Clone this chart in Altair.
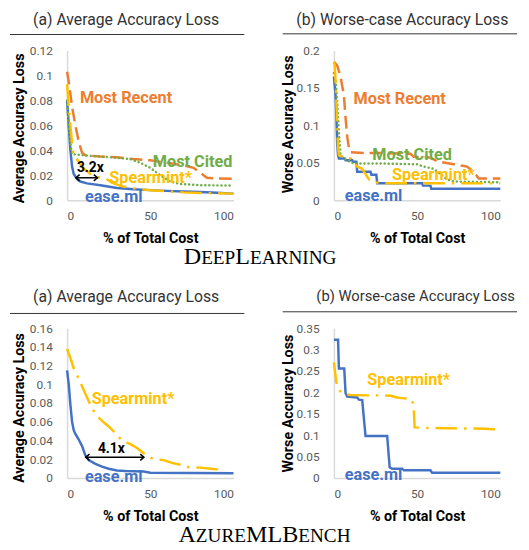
import altair as alt
import pandas as pd

# ---------------- data ----------------
x_ticks = [0, 50, 100]
dl_avg_ticks = [0, 0.02, 0.04, 0.06, 0.08, 0.1, 0.12]
dl_worst_ticks = [0, 0.05, 0.1, 0.15, 0.2]
az_avg_ticks = [0, 0.02, 0.04, 0.06, 0.08, 0.1, 0.12, 0.14, 0.16]
az_worst_ticks = [0, 0.05, 0.1, 0.15, 0.2, 0.25, 0.3, 0.35]

# DeepLearning - average accuracy loss
dl_avg_ease_x = [0, 1, 2, 3, 4, 6, 8, 12, 20, 30, 40, 50, 60, 70, 80, 90, 100]
dl_avg_ease_y = [0.08, 0.06, 0.04, 0.027, 0.021, 0.017, 0.015, 0.0135, 0.012, 0.0098, 0.0088, 0.0081, 0.0075, 0.007, 0.0066, 0.006, 0.0053]
dl_avg_recent_x = [0, 1, 2, 3, 5, 7, 9, 11, 20, 30, 40, 50, 60, 70, 76, 80, 84, 90, 100]
dl_avg_recent_y = [0.103, 0.095, 0.085, 0.075, 0.06, 0.047, 0.038, 0.036, 0.035, 0.0345, 0.033, 0.032, 0.03, 0.028, 0.026, 0.022, 0.018, 0.0175, 0.0172]
dl_avg_cited_x = [0, 1, 2, 3, 10, 20, 30, 38, 44, 50, 56, 62, 68, 80, 100]
dl_avg_cited_y = [0.08, 0.06, 0.045, 0.037, 0.036, 0.035, 0.034, 0.033, 0.03, 0.026, 0.02, 0.015, 0.013, 0.012, 0.0118]
dl_avg_spear_x = [0, 1, 2, 3, 4, 7, 10, 14, 18, 23, 27, 32, 40, 50, 60, 70, 80, 90, 100]
dl_avg_spear_y = [0.093, 0.075, 0.06, 0.045, 0.036, 0.031, 0.0255, 0.021, 0.0185, 0.0176, 0.014, 0.0115, 0.0095, 0.008, 0.0072, 0.0063, 0.0058, 0.0056, 0.0053]

# DeepLearning - worse-case accuracy loss
dl_worst_ease_x = [0, 1, 1.5, 2, 2.5, 3, 6.5, 7, 11, 11.5, 13.5, 14, 22, 22.5, 25.5, 26, 53, 53.5, 58, 58.5, 100]
dl_worst_ease_y = [0.165, 0.14, 0.11, 0.075, 0.06, 0.0557, 0.0557, 0.0535, 0.0535, 0.0513, 0.0513, 0.038, 0.038, 0.034, 0.034, 0.0228, 0.0228, 0.0195, 0.0195, 0.0152, 0.0152]
dl_worst_recent_x = [0, 2, 4, 6, 7, 8, 9, 10, 20, 30, 46, 48, 58, 62, 72, 80, 84, 87, 100]
dl_worst_recent_y = [0.185, 0.18, 0.165, 0.14, 0.11, 0.085, 0.07, 0.064, 0.063, 0.063, 0.062, 0.058, 0.057, 0.052, 0.048, 0.045, 0.038, 0.029, 0.029]
dl_worst_cited_x = [0, 1, 2, 3, 4, 6, 9, 12, 30, 50, 54, 60, 64, 68, 72, 100]
dl_worst_cited_y = [0.17, 0.16, 0.13, 0.09, 0.06, 0.056, 0.052, 0.049, 0.049, 0.048, 0.045, 0.042, 0.035, 0.028, 0.025, 0.024]
dl_worst_spear_x = [0, 0.5, 1, 1.5, 2, 2.5, 3, 6, 10, 12, 14, 17, 19, 21, 24, 28, 100]
dl_worst_spear_y = [0.185, 0.18, 0.16, 0.13, 0.1, 0.07, 0.06, 0.058, 0.056, 0.05, 0.045, 0.042, 0.035, 0.028, 0.024, 0.0228, 0.0225]

# AzureMLBench - average accuracy loss
az_avg_ease_x = [0, 1, 2, 3, 4, 5, 7, 9, 10, 11, 13, 17, 21, 25, 30, 35, 46, 50, 100]
az_avg_ease_y = [0.115, 0.1, 0.078, 0.06, 0.051, 0.047, 0.041, 0.034, 0.029, 0.024, 0.019, 0.015, 0.012, 0.0098, 0.008, 0.0074, 0.0068, 0.0055, 0.005]
az_avg_spear_x = [0, 2, 4, 7, 9, 11, 13, 17, 21, 25, 29, 33, 38, 42, 47, 52, 58, 63, 68, 74, 80, 88, 93]
az_avg_spear_y = [0.138, 0.128, 0.117, 0.106, 0.098, 0.09, 0.082, 0.068, 0.061, 0.055, 0.048, 0.04, 0.036, 0.032, 0.025, 0.02, 0.019, 0.016, 0.014, 0.011, 0.011, 0.0095, 0.0088]

# AzureMLBench - worse-case accuracy loss
az_worst_ease_x = [0, 2.5, 3, 6.2, 7, 8, 14, 15, 17, 19, 32, 33.5, 35, 41, 42, 58, 59, 100]
az_worst_ease_y = [0.323, 0.323, 0.256, 0.256, 0.198, 0.19, 0.188, 0.183, 0.182, 0.098, 0.098, 0.025, 0.0215, 0.0215, 0.0177, 0.0177, 0.012, 0.012]
az_worst_spear_x = [0, 1.5, 3.5, 6, 10, 20, 28, 34, 38, 42, 46, 47.5, 48, 48.5, 55, 70, 90, 100]
az_worst_spear_y = [0.27, 0.222, 0.204, 0.196, 0.194, 0.193, 0.193, 0.192, 0.188, 0.186, 0.185, 0.175, 0.16, 0.118, 0.117, 0.116, 0.115, 0.113]

# ---------------- styles ----------------
FONT = "Roboto"
SERIF = "Liberation Serif"
BLUE, ORANGE, GREEN, YELLOW = "#4472C4", "#ED7D31", "#70AD47", "#FFC000"
W, H = 169, 152
LBL = 16.5
STYLE = {
    "ease.ml": dict(color=BLUE, strokeWidth=2.5),
    "Most Recent": dict(color=ORANGE, strokeWidth=2.5, strokeDash=[13, 6]),
    "Most Cited": dict(color=GREEN, strokeWidth=2.5, strokeDash=[0.1, 4], strokeCap="round"),
    "Spearmint*": dict(color=YELLOW, strokeWidth=2.5, strokeDash=[22, 7, 2.5, 7]),
}
ORDER = ["ease.ml", "Most Recent", "Most Cited", "Spearmint*"]

# Times / Liberation Serif advance widths (per 1000 em) for the small-caps row labels
TW = {'A': 722, 'B': 667, 'C': 667, 'D': 722, 'E': 611, 'G': 722, 'H': 722, 'I': 333,
      'L': 611, 'M': 889, 'N': 722, 'P': 556, 'R': 667, 'U': 722, 'Z': 611}


def small_caps(word, cx, baseline, big=24.5, small=19.5):
    pieces = []
    for ch in word:
        size = big if ch.isupper() else small
        if pieces and pieces[-1][1] == size:
            pieces[-1][0] += ch.upper()
        else:
            pieces.append([ch.upper(), size])
    widths = [sum(TW[c] for c in t) * s / 1000 for t, s in pieces]
    x = cx - sum(widths) / 2
    layers = []
    for (t, s), w in zip(pieces, widths):
        layers.append(
            alt.Chart(pd.DataFrame({"t": [t]})).mark_text(
                align="left", baseline="alphabetic", font=SERIF, fontSize=s, color="black"
            ).encode(x=alt.value(x), y=alt.value(baseline), text="t:N")
        )
        x += w
    return layers


def panel(series, y_ticks, y_title, ytitle_xy, xtitle_y, title, title_xy, title_size, rule, labels,
          arrow=None, row=None):
    rows = []
    for name, (xs, ys) in series.items():
        rows += [{"x": a, "y": b, "s": name} for a, b in zip(xs, ys)]
    df = pd.DataFrame(rows)
    x_enc = alt.X("x:Q", scale=alt.Scale(domain=[0, 100], nice=False),
                  axis=alt.Axis(values=x_ticks, title="% of Total Cost", titleX=W / 2, titleY=xtitle_y,
                                labelOverlap=False))
    y_enc = alt.Y("y:Q", scale=alt.Scale(domain=[0, y_ticks[-1]], nice=False),
                  axis=alt.Axis(values=y_ticks, format=".3~g", title=y_title, labelOverlap=False,
                                labelBound=False, labelFlush=False,
                                titleX=ytitle_xy[0], titleY=ytitle_xy[1]))
    layers = []
    for name in ORDER:
        if name in series:
            layers.append(
                alt.Chart(df).transform_filter(alt.datum.s == name)
                .mark_line(**STYLE[name]).encode(x=x_enc, y=y_enc)
            )
    for text, lx, ly, color, align, size in labels:
        layers.append(
            alt.Chart(pd.DataFrame({"x": [lx], "y": [ly], "t": [text]})).mark_text(
                align=align, baseline="middle", font=FONT, fontWeight="bold",
                fontSize=size, color=color
            ).encode(x=x_enc, y=y_enc, text="t:N")
        )
    if arrow:
        a, b, v = arrow
        layers.append(
            alt.Chart(pd.DataFrame({"x": [a], "x2": [b], "y": [v]}))
            .mark_rule(color="black", strokeWidth=1.5)
            .encode(x=x_enc, x2="x2:Q", y=y_enc)
        )
        for px, shp in ((a, "M1.2,-1L0,0L1.2,1"), (b, "M-1.2,-1L0,0L-1.2,1")):
            layers.append(
                alt.Chart(pd.DataFrame({"x": [px], "y": [v]})).mark_point(
                    shape=shp, size=40, filled=False, color="black", strokeWidth=1.5, opacity=1
                ).encode(x=x_enc, y=y_enc)
            )
    layers.append(
        alt.Chart(pd.DataFrame({"t": [title]})).mark_text(
            align="center", baseline="middle", font=FONT, fontSize=title_size, color="#333333"
        ).encode(x=alt.value(title_xy[0]), y=alt.value(title_xy[1]), text="t:N")
    )
    layers.append(
        alt.Chart(pd.DataFrame({"k": [0]})).mark_rule(color="#333333", strokeWidth=1)
        .encode(x=alt.value(rule[0]), x2=alt.value(rule[1]), y=alt.value(rule[2]))
    )
    if row:
        layers += small_caps(*row)
    return alt.layer(*layers).properties(width=W, height=H)


tl = panel(
    {"ease.ml": (dl_avg_ease_x, dl_avg_ease_y), "Most Recent": (dl_avg_recent_x, dl_avg_recent_y),
     "Most Cited": (dl_avg_cited_x, dl_avg_cited_y), "Spearmint*": (dl_avg_spear_x, dl_avg_spear_y)},
    dl_avg_ticks, "Average Accuracy Loss", (-48, 78.5), 38.5,
    "(a) Average Accuracy Loss", (60, -31), 16, (-58, 180, -16.3),
    [("Most Recent", 7.7, 0.0816, ORANGE, "left", LBL),
     ("Most Cited", 51.5, 0.0308, GREEN, "left", LBL),
     ("Spearmint*", 25.4, 0.0176, YELLOW, "left", LBL),
     ("ease.ml", 10.7, 0.0024, BLUE, "left", LBL),
     ("3.2x", 5.9, 0.026, "black", "left", 14)],
    arrow=(5.3, 18.3, 0.018), row=("DeepLearning", 196, 216.5),
)
tr = panel(
    {"ease.ml": (dl_worst_ease_x, dl_worst_ease_y), "Most Recent": (dl_worst_recent_x, dl_worst_recent_y),
     "Most Cited": (dl_worst_cited_x, dl_worst_cited_y), "Spearmint*": (dl_worst_spear_x, dl_worst_spear_y)},
    dl_worst_ticks, "Worse Accuracy Loss", (-46, 74.5), 38.5,
    "(b) Worse-case Accuracy Loss", (69.5, -31), 16, (-52, 186, -17),
    [("Most Recent", 11.8, 0.1355, ORANGE, "left", LBL),
     ("Most Cited", 23.1, 0.0605, GREEN, "left", LBL),
     ("Spearmint*", 34.9, 0.0342, YELLOW, "left", LBL),
     ("ease.ml", 6.5, 0.0053, BLUE, "left", LBL)],
)
bl = panel(
    {"ease.ml": (az_avg_ease_x, az_avg_ease_y), "Spearmint*": (az_avg_spear_x, az_avg_spear_y)},
    az_avg_ticks, "Average Accuracy Loss", (-48, 80.5), 39,
    "(a) Average Accuracy Loss", (60, -32), 16, (-58, 180, -15),
    [("Spearmint*", 14.8, 0.0842, YELLOW, "left", LBL),
     ("ease.ml", 10.7, 0.001, BLUE, "left", LBL),
     ("4.1x", 26.6, 0.0305, "black", "center", 14)],
    arrow=(11.2, 46.2, 0.0221), row=("AzureMLBench", 200.5, 217),
)
br = panel(
    {"ease.ml": (az_worst_ease_x, az_worst_ease_y), "Spearmint*": (az_worst_spear_x, az_worst_spear_y)},
    az_worst_ticks, "Worse Accuracy Loss", (-46, 76), 39,
    "(b) Worse-case Accuracy Loss", (83, -33), 15, (-52, 186, -16.7),
    [("Spearmint*", 20.1, 0.228, YELLOW, "left", LBL),
     ("ease.ml", 6.5, 0.0069, BLUE, "left", LBL)],
)

chart = alt.concat(
    tl, tr, bl, br, columns=2, spacing={"row": 130, "column": 102}, bounds="flush"
).properties(
    autosize=alt.AutoSizeParams(type="none"),
    padding={"left": 60, "top": 39, "right": 461, "bottom": 503},
).configure_view(stroke=None).configure_axis(
    domainColor="#d9d9d9", domainWidth=1.5, ticks=False, grid=False, labelOverlap=False,
    labelFont=FONT, labelFontSize=12, labelColor="#595959",
    titleFont=FONT, titleFontSize=14.5, titleFontWeight="bold", titleColor="black",
).configure_axisX(labelPadding=11, titleBaseline="middle", titleAlign="center").configure_axisY(
    labelPadding=15, titleAngle=270, titleBaseline="middle", titleAlign="center"
)

chart.save("out.html", embed_options={"renderer": "svg", "actions": False})
